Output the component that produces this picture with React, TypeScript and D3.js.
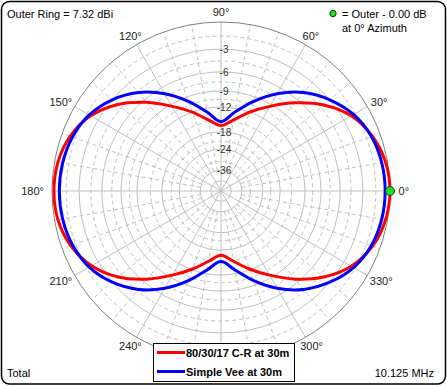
import React, { useEffect, useRef } from 'react';
import * as d3 from 'd3';

// azimuth angles (deg, counter-clockwise from right)
const azimuths = [0, 10, 20, 30, 40, 50, 60, 70, 80, 90, 100, 110, 120, 130, 140, 150, 160, 170,
  180, 190, 200, 210, 220, 230, 240, 250, 260, 270, 280, 290, 300, 310, 320, 330, 340, 350];

// gain relative to outer ring, dB
const crGain = [0, -0.2, -0.85, -2.0, -4.0, -6.6, -9.4, -12.0, -14.6, -16.3, -14.6, -12.0, -9.4, -6.5, -3.9, -2.0, -0.9, -0.35,
  -0.2, -0.35, -0.95, -2.1, -4.0, -6.6, -9.5, -12.2, -14.8, -16.6, -14.8, -12.2, -9.5, -6.6, -4.0, -2.0, -0.8, -0.2];
const veeGain = [-0.5, -0.6, -0.95, -1.7, -3.0, -4.7, -7.0, -9.8, -12.8, -15.3, -12.8, -9.8, -7.0, -4.7, -3.0, -1.8, -1.15, -0.85,
  -0.76, -0.85, -1.15, -1.8, -3.0, -4.7, -7.0, -9.8, -12.8, -15.0, -12.8, -9.8, -7.0, -4.7, -3.0, -1.7, -0.95, -0.6];

const seriesNames = ['80/30/17 C-R at 30m', 'Simple Vee at 30m'];
const seriesColors = ['#ff0000', '#0000ff'];

const angleTicks = [0, 30, 60, 90, 120, 150, 180, 210, 240, 270, 300, 330];
// 270° sits under the legend box, so it is not labelled
const angleLabels = [0, 30, 60, 90, 120, 150, 180, 210, 240, 300, 330];
const radialMinor = [10, 20, 40, 50, 70, 80, 100, 110, 130, 140, 160, 170, 190, 200, 220, 230, 250, 260, 280, 290, 310, 320, 340, 350];
const ringSolid = [-3, -6, -9, -12, -18, -24, -36, -48];
const ringDashed = [-1.5, -4.5, -7.5, -10.5, -15, -21, -30];
const ringLabels = [-3, -6, -9, -12, -18, -24, -36];

const W = 447, H = 386;
const cx = 221, cy = 191, R = 169;
const FONT = '"Liberation Sans", Arial, sans-serif';

const App = () => {
  const ref = useRef();

  useEffect(() => {
    const svg = d3.select(ref.current);
    svg.selectAll('*').remove();

    // ARRL log scale: 0.89 per 2 dB
    const expo = d3.scaleLinear().domain([0, -2]).range([0, Math.log(0.89)]);
    const r = db => R * Math.exp(expo(db));
    const ang = d3.scaleLinear().domain([0, 360]).range([Math.PI / 2, Math.PI / 2 - 2 * Math.PI]);
    const px = (a, rr) => cx + rr * Math.cos(a * Math.PI / 180);
    const py = (a, rr) => cy - rr * Math.sin(a * Math.PI / 180);

    svg.append('rect').attr('width', W).attr('height', H).attr('fill', '#fff');

    const g = svg.append('g');

    g.selectAll('.ring-dash').data(ringDashed).enter().append('circle')
      .attr('cx', cx).attr('cy', cy).attr('r', d => r(d))
      .attr('fill', 'none').attr('stroke', '#c0c0c0').attr('stroke-dasharray', '4,3');

    g.selectAll('.ring').data(ringSolid).enter().append('circle')
      .attr('cx', cx).attr('cy', cy).attr('r', d => r(d))
      .attr('fill', 'none').attr('stroke', '#c0c0c0');

    g.selectAll('.spoke-minor').data(radialMinor).enter().append('line')
      .attr('x1', d => px(d, r(-36))).attr('y1', d => py(d, r(-36)))
      .attr('x2', d => px(d, R)).attr('y2', d => py(d, R))
      .attr('stroke', '#c0c0c0').attr('stroke-dasharray', '4,3');

    g.selectAll('.spoke').data(angleTicks).enter().append('line')
      .attr('x1', cx).attr('y1', cy)
      .attr('x2', d => px(d, R)).attr('y2', d => py(d, R))
      .attr('stroke', '#c0c0c0');

    g.append('circle').attr('cx', cx).attr('cy', cy).attr('r', R)
      .attr('fill', 'none').attr('stroke', '#808080');

    g.selectAll('.db-label').data(ringLabels).enter().append('text')
      .attr('x', cx + 3).attr('y', d => cy - r(d) + 4)
      .attr('text-anchor', 'middle')
      .attr('font-family', FONT).attr('font-size', 10).attr('fill', '#333')
      .text(d => d);

    // angle labels
    g.selectAll('.ang-label').data(angleLabels).enter().append('text')
      .attr('x', d => {
        const c = Math.cos(d * Math.PI / 180);
        const hw = (String(d).length * 5.6 + 4) / 2;
        return px(d, R) + c * (7 + hw * Math.abs(c)) + (Math.abs(c) > 0.99 ? c * 2 : 0);
      })
      .attr('y', d => {
        const s = Math.sin(d * Math.PI / 180);
        return py(d, R) - s * 10 + 4;
      })
      .attr('text-anchor', 'middle')
      .attr('font-family', FONT).attr('font-size', 11).attr('fill', '#222')
      .text(d => d + '°');

    const radial = d3.lineRadial()
      .angle((d, i) => ang(azimuths[i]))
      .radius(d => r(d))
      .curve(d3.curveCatmullRomClosed.alpha(0.5));

    [crGain, veeGain].forEach((vals, i) => {
      g.append('path')
        .attr('d', radial(vals))
        .attr('transform', `translate(${cx},${cy})`)
        .attr('fill', 'none')
        .attr('stroke', seriesColors[i])
        .attr('stroke-width', 3)
        .attr('stroke-linejoin', 'round');
    });

    // max marker at 0 deg
    g.append('circle').attr('cx', px(0, R)).attr('cy', py(0, R)).attr('r', 4.5)
      .attr('fill', '#22dd22').attr('stroke', '#104010').attr('stroke-width', 1);

    // corner texts
    const txt = (x, y, s, anchor = 'start') => svg.append('text')
      .attr('x', x).attr('y', y).attr('text-anchor', anchor)
      .attr('font-family', FONT).attr('font-size', 11).attr('fill', '#000').text(s);
    txt(7, 18, 'Outer Ring = 7.32 dBi');
    svg.append('circle').attr('cx', 333).attr('cy', 13.5).attr('r', 3.2)
      .attr('fill', '#22dd22').attr('stroke', '#104010');
    txt(342, 18, '= Outer - 0.00 dB');
    txt(342, 32, 'at 0° Azimuth');
    txt(7, 377, 'Total');
    txt(434, 377, '10.125 MHz', 'end');

    // legend
    const lg = svg.append('g');
    lg.append('rect').attr('x', 153.5).attr('y', 343.5).attr('width', 141).attr('height', 38)
      .attr('fill', '#fff').attr('stroke', '#000');
    seriesNames.forEach((name, i) => {
      const y = 352.5 + i * 19;
      lg.append('line').attr('x1', 157).attr('x2', 185).attr('y1', y).attr('y2', y)
        .attr('stroke', seriesColors[i]).attr('stroke-width', 3);
      lg.append('text').attr('x', 186).attr('y', y + 4)
        .attr('font-family', FONT).attr('font-size', 11).attr('font-weight', 'bold')
        .text(name);
    });

    svg.append('rect').attr('x', 1.5).attr('y', 1.5).attr('width', 444).attr('height', 382.5)
      .attr('rx', 8).attr('fill', 'none').attr('stroke', '#000').attr('stroke-width', 1.5);
  }, []);

  return (
    <svg ref={ref} width={W} height={H} style={{ position: 'absolute', left: 0, top: 0 }}></svg>
  );
};

export default App;
